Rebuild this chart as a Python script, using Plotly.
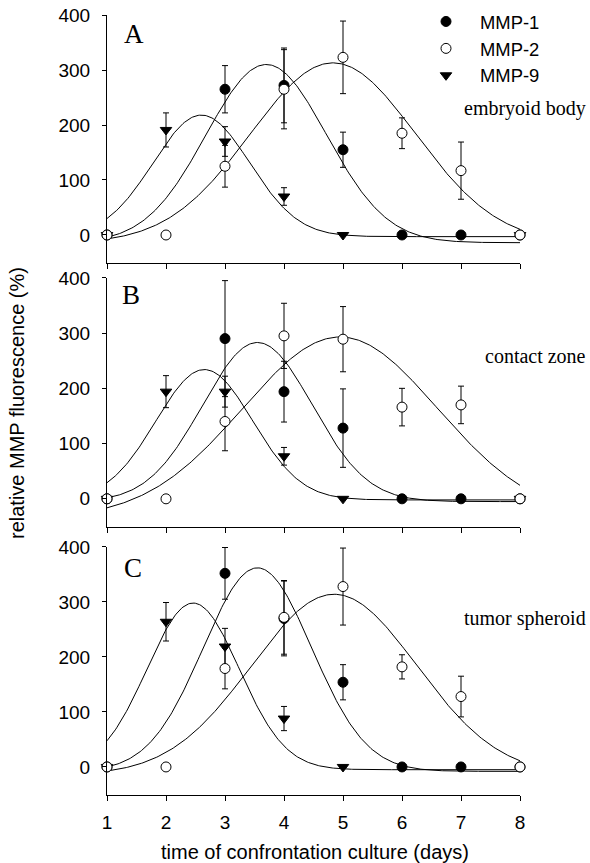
import numpy as np
import plotly.graph_objects as go

days = [1, 2, 3, 4, 5, 6, 7, 8]
series_names = ["MMP-1", "MMP-2", "MMP-9"]
panel_letters = ["A", "B", "C"]
panel_labels = ["embryoid body", "contact zone", "tumor spheroid"]
y_ticks = [0, 100, 200, 300, 400]

# Panel A (embryoid body)
mmp1_A = [0, None, 265, 272, 155, 0, 0, 0]
err1_A = [0, None, 43, 68, 32, 0, 0, 0]
mmp2_A = [0, 0, 125, 265, 323, 185, 117, 0]
err2_A = [0, 0, 38, 72, 66, 28, 52, 0]
mmp9_A = [0, 191, 170, 70, 0, None, None, 0]
err9_A = [0, 31, 27, 16, 0, None, None, 0]

# Panel B (contact zone)
mmp1_B = [0, None, 290, 194, 128, 0, 0, 0]
err1_B = [0, None, 105, 55, 71, 0, 0, 0]
mmp2_B = [0, 0, 140, 295, 289, 166, 170, 0]
err2_B = [0, 0, 53, 59, 59, 34, 34, 0]
mmp9_B = [0, 194, 194, 77, 0, None, None, 0]
err9_B = [0, 29, 28, 16, 0, None, None, 0]

# Panel C (tumor spheroid)
mmp1_C = [0, None, 352, 270, 154, 0, 0, 0]
err1_C = [0, None, 47, 68, 32, 0, 0, 0]
mmp2_C = [0, 0, 179, 272, 328, 182, 128, 0]
err2_C = [0, 0, 37, 67, 70, 22, 37, 0]
mmp9_C = [0, 264, 219, 88, 0, None, None, None]
err9_C = [0, 35, 33, 22, 0, None, None, None]

# Gaussian fit parameters (y0, a, x0, b)
fit_A = [(-14, 324, 3.70, 1.02), (-15, 328, 4.83, 1.40), (-3, 221, 2.60, 0.82)]
fit_B = [(-5, 288, 3.55, 0.93), (-35, 328, 4.95, 1.65), (-2, 236, 2.65, 0.82)]
fit_C = [(-8, 370, 3.55, 0.92), (-15, 329, 4.85, 1.40), (-5, 303, 2.46, 0.78)]

panels = [
    ([mmp1_A, mmp2_A, mmp9_A], [err1_A, err2_A, err9_A], fit_A),
    ([mmp1_B, mmp2_B, mmp9_B], [err1_B, err2_B, err9_B], fit_B),
    ([mmp1_C, mmp2_C, mmp9_C], [err1_C, err2_C, err9_C], fit_C),
]
# A is top -> yaxis3, B -> yaxis2, C -> yaxis
axis_ids = [("x3", "y3"), ("x2", "y2"), ("x", "y")]

marker_styles = [
    dict(symbol="circle", size=10, color="black", line=dict(color="black", width=1)),
    dict(symbol="circle", size=10, color="white", line=dict(color="black", width=1)),
    dict(symbol="triangle-down", size=10, color="black", line=dict(color="black", width=1)),
]

fig = go.Figure()
xs = np.linspace(1, 8, 300)
for pi, (vals, errs, fits) in enumerate(panels):
    xa, ya = axis_ids[pi]
    for (y0, a, x0, b) in fits:
        ys = y0 + a * np.exp(-0.5 * ((xs - x0) / b) ** 2)
        fig.add_trace(go.Scatter(x=xs, y=ys, mode="lines", line=dict(color="black", width=1),
                                 showlegend=False, hoverinfo="skip", xaxis=xa, yaxis=ya))
    for si in [0, 2, 1]:
        fig.add_trace(go.Scatter(
            x=days, y=vals[si], mode="markers", name=series_names[si],
            marker=marker_styles[si],
            error_y=dict(type="data", array=errs[si], visible=True, color="black", thickness=1, width=3),
            showlegend=(pi == 0), legendrank=si, cliponaxis=False, xaxis=xa, yaxis=ya))

W, H = 590, 863
L, R, T, B = 107, 70, 15, 68
pw, ph = W - L - R, H - T - B

def px_x(p):
    return (p - L) / pw

def px_y(p):
    return (H - B - p) / ph

axis_common = dict(showline=True, linecolor="black", linewidth=1, ticks="outside", ticklen=5,
                   tickcolor="black", showgrid=False, zeroline=False, automargin=False,
                   tickfont=dict(family="Liberation Sans", size=19, color="black"))

domains = {"y3": [0.682, 1.0], "y2": [0.3436, 0.663], "y": [0.0, 0.318]}
layout = dict(width=W, height=H, margin=dict(l=L, r=R, t=T, b=B, autoexpand=False),
              plot_bgcolor="white", paper_bgcolor="white", showlegend=True)
for xa, ya in axis_ids:
    xkey = "xaxis" if xa == "x" else "xaxis" + xa[1:]
    ykey = "yaxis" if ya == "y" else "yaxis" + ya[1:]
    layout[xkey] = dict(axis_common, range=[1, 8], tickvals=days, anchor=ya,
                        showticklabels=(xa == "x"), ticklabelstandoff=5)
    if xa != "x":
        layout[xkey]["matches"] = "x"
    layout[ykey] = dict(axis_common, range=[-51, 400], tickvals=y_ticks, anchor=xa,
                        domain=domains[ya], ticklen=4, ticklabelstandoff=8)
layout["legend"] = dict(x=412 / W, y=1 - 3 / H, xref="container", yref="container",
                        xanchor="left", yanchor="top",
                        font=dict(family="Liberation Sans", size=18.4, color="black"),
                        itemwidth=58, tracegroupgap=0, bgcolor="rgba(0,0,0,0)")
fig.update_layout(**layout)

letter_pos = [(134, 34), (131, 295), (133, 568)]
label_pos = [108, 356, 618]
for i in range(3):
    fig.add_annotation(text=panel_letters[i], xref="paper", yref="paper",
                       x=px_x(letter_pos[i][0]), y=px_y(letter_pos[i][1]),
                       xanchor="center", yanchor="middle",
                       showarrow=False, font=dict(family="Liberation Serif", size=27, color="black"))
    fig.add_annotation(text=panel_labels[i], xref="paper", yref="paper",
                       x=px_x(588), y=px_y(label_pos[i]), xanchor="right", yanchor="middle",
                       showarrow=False, font=dict(family="Liberation Serif", size=20, color="black"))
fig.add_annotation(text="relative MMP fluorescence (%)", xref="paper", yref="paper",
                   x=px_x(17), y=px_y(403), textangle=-90, showarrow=False,
                   xanchor="center", yanchor="middle",
                   font=dict(family="Liberation Sans", size=20, color="black"))
fig.add_annotation(text="time of confrontation culture (days)", xref="paper", yref="paper",
                   x=px_x(314.5), y=px_y(852), showarrow=False,
                   xanchor="center", yanchor="middle",
                   font=dict(family="Liberation Sans", size=20, color="black"))

fig.write_html("out.html")
